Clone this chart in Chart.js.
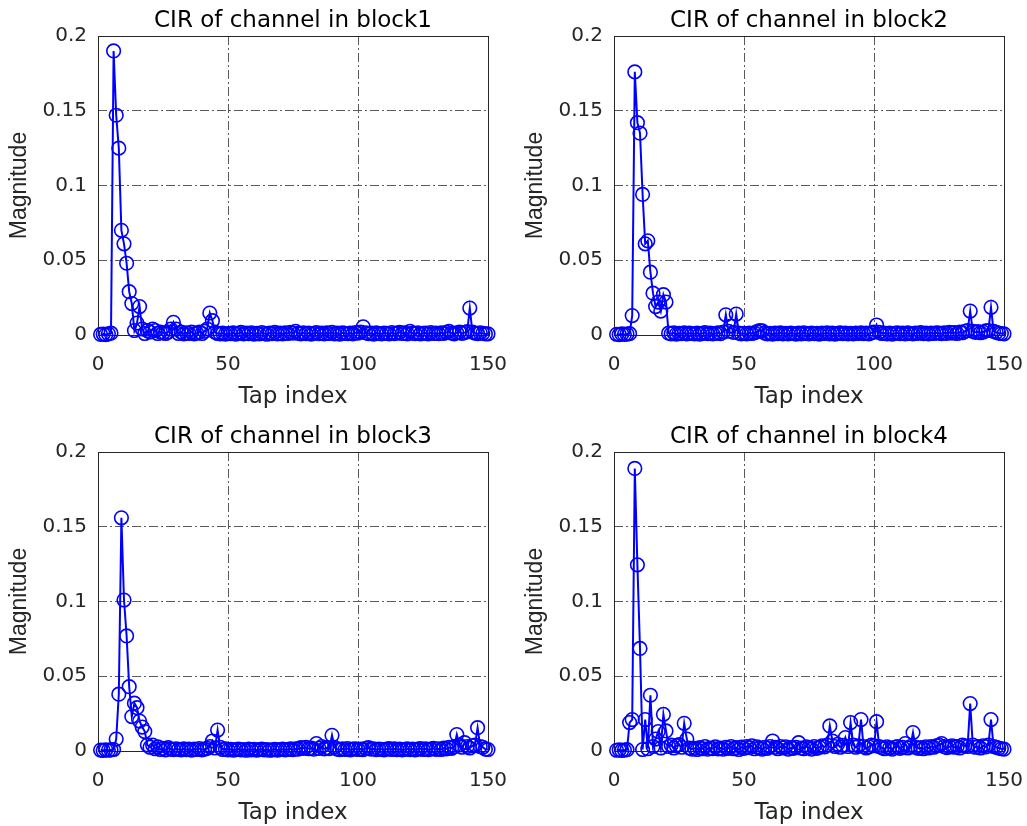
<!DOCTYPE html>
<html>
<head>
<meta charset="utf-8">
<script src="https://cdn.jsdelivr.net/npm/chart.js@4"></script>
<style>
  html, body { margin: 0; padding: 0; background: #fff; overflow: hidden; }
  canvas { position: absolute; }
</style>
</head>
<body>
<canvas id="b1" width="511" height="413" style="left:0px;top:0px"></canvas>
<canvas id="b2" width="511" height="413" style="left:516px;top:0px"></canvas>
<canvas id="b3" width="511" height="413" style="left:0px;top:416px"></canvas>
<canvas id="b4" width="511" height="413" style="left:516px;top:416px"></canvas>
<script>
// tap index 1..150
const taps = Array.from({ length: 150 }, (_, i) => i + 1);
const xTicks = [0, 50, 100, 150];
const yTicks = [0, 0.05, 0.1, 0.15, 0.2];
const titles = ['CIR of channel in block1', 'CIR of channel in block2', 'CIR of channel in block3', 'CIR of channel in block4'];

const block1 = [
  0.0004, 0.0006, 0.0003, 0.0008, 0.0012, 0.190, 0.147, 0.125, 0.070, 0.061,
  0.048, 0.029, 0.021, 0.003, 0.008, 0.019, 0.004, 0.001, 0.003, 0.002,
  0.004, 0.003, 0.001, 0.002, 0.0015, 0.001, 0.002, 0.004, 0.0085, 0.004,
  0.001, 0.002, 0.0008, 0.0015, 0.001, 0.002, 0.0007, 0.0012, 0.002, 0.001,
  0.0025, 0.004, 0.0147, 0.0096, 0.002, 0.001, 0.0008, 0.0012, 0.0006, 0.001,
  0.0009, 0.0014, 0.0006, 0.0011, 0.0018, 0.0007, 0.0012, 0.0009, 0.0015, 0.0006,
  0.0011, 0.0008, 0.0016, 0.0010, 0.0005, 0.0013, 0.0009, 0.0017, 0.0008, 0.0012,
  0.0007, 0.0014, 0.0010, 0.0018, 0.0012, 0.0025, 0.0011, 0.0008, 0.0015, 0.0009,
  0.0013, 0.0006, 0.0011, 0.0016, 0.0009, 0.0012, 0.0007, 0.0014, 0.0010, 0.0018,
  0.0008, 0.0012, 0.0006, 0.0015, 0.0011, 0.0009, 0.0013, 0.0007, 0.0016, 0.0012,
  0.0020, 0.0055, 0.0015, 0.0009, 0.0012, 0.0006, 0.0014, 0.0010, 0.0008, 0.0013,
  0.0011, 0.0007, 0.0016, 0.0009, 0.0012, 0.0018, 0.0010, 0.0014, 0.0008, 0.0025,
  0.0012, 0.0009, 0.0015, 0.0007, 0.0011, 0.0013, 0.0008, 0.0016, 0.0010, 0.0012,
  0.0009, 0.0014, 0.0011, 0.0018, 0.0025, 0.0012, 0.0008, 0.0015, 0.0020, 0.0011,
  0.0016, 0.0022, 0.0180, 0.0020, 0.0012, 0.0009, 0.0015, 0.0011, 0.0007, 0.0008
];
const block2 = [
  0.0005, 0.0003, 0.0007, 0.0004, 0.0006, 0.0009, 0.013, 0.176, 0.142, 0.135,
  0.094, 0.061, 0.063, 0.042, 0.028, 0.019, 0.022, 0.016, 0.027, 0.022,
  0.0012, 0.0008, 0.0015, 0.0006, 0.0011, 0.0009, 0.0014, 0.0007, 0.0012, 0.0010,
  0.0008, 0.0013, 0.0006, 0.0011, 0.0016, 0.0009, 0.0012, 0.0007, 0.0010, 0.0014,
  0.0009, 0.0020, 0.0135, 0.0025, 0.0060, 0.0018, 0.0140, 0.0012, 0.0008, 0.0011,
  0.0007, 0.0013, 0.0010, 0.0015, 0.0022, 0.0030, 0.0028, 0.0012, 0.0008, 0.0011,
  0.0006, 0.0012, 0.0009, 0.0014, 0.0008, 0.0011, 0.0007, 0.0013, 0.0010, 0.0006,
  0.0012, 0.0008, 0.0015, 0.0010, 0.0007, 0.0013, 0.0009, 0.0011, 0.0006, 0.0012,
  0.0010, 0.0015, 0.0008, 0.0012, 0.0006, 0.0011, 0.0014, 0.0009, 0.0012, 0.0007,
  0.0011, 0.0008, 0.0013, 0.0010, 0.0015, 0.0009, 0.0012, 0.0007, 0.0014, 0.0020,
  0.0067, 0.0018, 0.0010, 0.0013, 0.0008, 0.0012, 0.0006, 0.0011, 0.0015, 0.0009,
  0.0012, 0.0008, 0.0014, 0.0010, 0.0007, 0.0013, 0.0011, 0.0016, 0.0009, 0.0012,
  0.0008, 0.0013, 0.0010, 0.0015, 0.0012, 0.0009, 0.0014, 0.0011, 0.0018, 0.0013,
  0.0016, 0.0010, 0.0020, 0.0015, 0.0025, 0.0030, 0.0160, 0.0025, 0.0018, 0.0022,
  0.0015, 0.0020, 0.0028, 0.0030, 0.0185, 0.0025, 0.0018, 0.0012, 0.0010, 0.0008
];
const block3 = [
  0.0006, 0.0004, 0.0008, 0.0005, 0.0007, 0.0010, 0.008, 0.038, 0.156, 0.101,
  0.077, 0.043, 0.023, 0.032, 0.029, 0.020, 0.016, 0.013, 0.004, 0.0025,
  0.0040, 0.0015, 0.0028, 0.0010, 0.0018, 0.0008, 0.0022, 0.0012, 0.0009, 0.0015,
  0.0011, 0.0007, 0.0014, 0.0009, 0.0012, 0.0006, 0.0013, 0.0010, 0.0016, 0.0008,
  0.0012, 0.0018, 0.0030, 0.0067, 0.0020, 0.0140, 0.0025, 0.0010, 0.0014, 0.0008,
  0.0011, 0.0006, 0.0009, 0.0013, 0.0007, 0.0010, 0.0005, 0.0012, 0.0008, 0.0011,
  0.0006, 0.0009, 0.0012, 0.0007, 0.0010, 0.0005, 0.0008, 0.0011, 0.0006, 0.0009,
  0.0012, 0.0008, 0.0010, 0.0014, 0.0009, 0.0015, 0.0012, 0.0022, 0.0018, 0.0024,
  0.0015, 0.0020, 0.0012, 0.0050, 0.0018, 0.0030, 0.0014, 0.0022, 0.0016, 0.0105,
  0.0025, 0.0012, 0.0009, 0.0014, 0.0010, 0.0016, 0.0008, 0.0012, 0.0015, 0.0010,
  0.0013, 0.0009, 0.0018, 0.0022, 0.0012, 0.0015, 0.0009, 0.0013, 0.0011, 0.0008,
  0.0012, 0.0016, 0.0010, 0.0014, 0.0009, 0.0012, 0.0007, 0.0011, 0.0015, 0.0009,
  0.0013, 0.0008, 0.0012, 0.0016, 0.0010, 0.0014, 0.0009, 0.0012, 0.0018, 0.0011,
  0.0015, 0.0010, 0.0020, 0.0014, 0.0025, 0.0018, 0.0030, 0.0110, 0.0040, 0.0025,
  0.0056, 0.0030, 0.0020, 0.0035, 0.0040, 0.0156, 0.0030, 0.0025, 0.0012, 0.0010
];
const block4 = [
  0.0005, 0.0008, 0.0004, 0.0006, 0.0009, 0.019, 0.021, 0.189, 0.1245, 0.0686,
  0.0010, 0.021, 0.0015, 0.0373, 0.003, 0.008, 0.013, 0.002, 0.0245, 0.0134,
  0.0030, 0.0040, 0.0020, 0.0035, 0.0042, 0.0025, 0.0185, 0.0080, 0.0020, 0.0012,
  0.0018, 0.0010, 0.0022, 0.0015, 0.0030, 0.0012, 0.0020, 0.0016, 0.0028, 0.0014,
  0.0020, 0.0012, 0.0025, 0.0018, 0.0030, 0.0015, 0.0022, 0.0010, 0.0026, 0.0018,
  0.0030, 0.0022, 0.0035, 0.0015, 0.0028, 0.0020, 0.0012, 0.0025, 0.0018, 0.0030,
  0.0067, 0.0025, 0.0015, 0.0030, 0.0020, 0.0028, 0.0012, 0.0022, 0.0018, 0.0025,
  0.0056, 0.0020, 0.0015, 0.0028, 0.0022, 0.0012, 0.0030, 0.0018, 0.0025, 0.0035,
  0.0028, 0.0040, 0.0168, 0.0067, 0.0030, 0.0045, 0.0025, 0.0038, 0.0090, 0.0030,
  0.0190, 0.0040, 0.0025, 0.0035, 0.0210, 0.0030, 0.0020, 0.0028, 0.0040, 0.0035,
  0.0196, 0.0030, 0.0022, 0.0015, 0.0028, 0.0020, 0.0012, 0.0025, 0.0030, 0.0018,
  0.0025, 0.0050, 0.0020, 0.0030, 0.0123, 0.0025, 0.0018, 0.0022, 0.0015, 0.0028,
  0.0020, 0.0030, 0.0025, 0.0035, 0.0040, 0.0050, 0.0030, 0.0022, 0.0028, 0.0035,
  0.0025, 0.0030, 0.0020, 0.0040, 0.0035, 0.0030, 0.0317, 0.0040, 0.0025, 0.0030,
  0.0020, 0.0035, 0.0028, 0.0040, 0.0210, 0.0030, 0.0025, 0.0020, 0.0015, 0.0012
];

const gridCol = '#5a5a5a';
const textCol = '#262626';

// box round the axes + title above it
const frame = {
  id: 'frame',
  beforeDatasetsDraw(chart) {
    const { ctx, chartArea: a } = chart;
    ctx.save();
    ctx.strokeStyle = textCol;
    ctx.lineWidth = 1;
    ctx.strokeRect(Math.round(a.left) + 0.5, Math.round(a.top) + 0.5,
      Math.round(a.right - a.left), Math.round(a.bottom - a.top));
    ctx.restore();
  },
  afterDraw(chart, args, opts) {
    const { ctx, chartArea: a } = chart;
    ctx.save();
    ctx.fillStyle = '#000';
    ctx.font = '23px "DejaVu Sans"';
    ctx.textAlign = 'center';
    ctx.textBaseline = 'alphabetic';
    ctx.fillText(opts.text, (a.left + a.right) / 2, 27);
    ctx.restore();
  }
};

function gridColor(c, edges) {
  const v = c.tick ? c.tick.value : null;
  if (v === null) return gridCol;
  return edges.some(e => Math.abs(e - v) < 1e-9) ? 'transparent' : gridCol;
}

function makePlot(id, title, vals) {
  new Chart(document.getElementById(id), {
    type: 'line',
    data: {
      datasets: [{
        data: taps.map((t, i) => ({ x: t, y: vals[i] })),
        borderColor: '#0000ff',
        borderWidth: 2,
        pointRadius: 6.8,
        pointBorderWidth: 1.6,
        pointBorderColor: '#0000ff',
        pointBackgroundColor: 'rgba(0,0,0,0)',
        tension: 0,
        clip: false
      }]
    },
    options: {
      responsive: false,
      animation: false,
      layout: { padding: { top: 36, right: 23, left: 0, bottom: 0 } },
      plugins: { legend: { display: false }, tooltip: { enabled: false }, frame: { text: title } },
      scales: {
        x: {
          type: 'linear',
          min: 0, max: 150,
          afterFit: s => { s.height = 78; s.paddingLeft = 0; s.paddingRight = 0; },
          afterBuildTicks: s => { s.ticks = xTicks.map(v => ({ value: v })); },
          ticks: { color: textCol, font: { family: 'DejaVu Sans', size: 20 }, padding: 18, maxRotation: 0 },
          grid: { color: c => gridColor(c, [0, 150]), drawTicks: false },
          border: { display: false, dash: [9, 3, 2, 3] },
          title: { display: true, text: 'Tap index', color: textCol,
            font: { family: 'DejaVu Sans', size: 23 }, padding: { top: 0, bottom: 2 } }
        },
        y: {
          min: 0, max: 0.2,
          afterFit: s => { s.width = 98; s.paddingTop = 0; s.paddingBottom = 0; },
          afterBuildTicks: s => { s.ticks = yTicks.map(v => ({ value: v })); },
          ticks: { color: textCol, font: { family: 'DejaVu Sans', size: 20 }, padding: 11,
            callback: v => String(v) },
          grid: { color: c => gridColor(c, [0, 0.2]), drawTicks: false },
          border: { display: false, dash: [9, 3, 2, 3] },
          title: { display: true, text: 'Magnitude', color: textCol,
            font: { family: 'Liberation Sans', size: 23 }, padding: { top: 6, bottom: 0 } }
        }
      }
    },
    plugins: [frame]
  });
}

makePlot('b1', titles[0], block1);
makePlot('b2', titles[1], block2);
makePlot('b3', titles[2], block3);
makePlot('b4', titles[3], block4);
</script>
</body>
</html>
